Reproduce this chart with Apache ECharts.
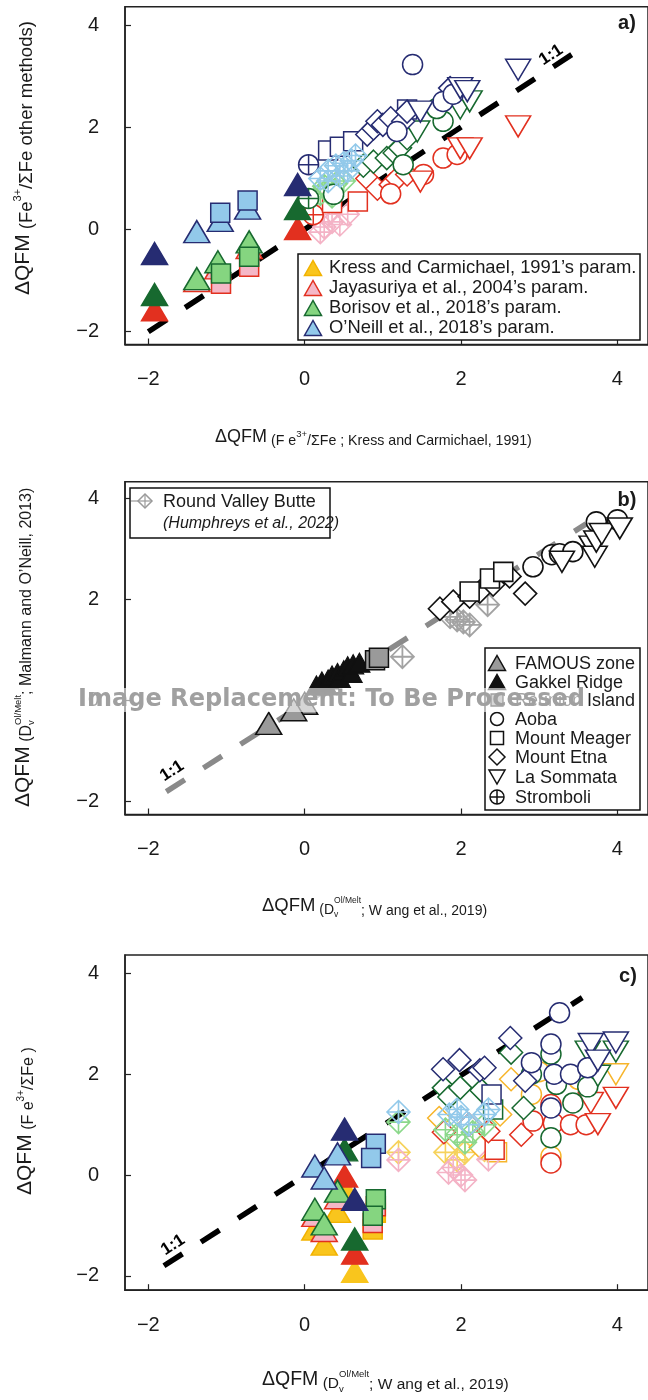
<!DOCTYPE html>
<html><head><meta charset="utf-8">
<script src="https://cdn.jsdelivr.net/npm/echarts@6/dist/echarts.min.js"></script>
<style>html,body{margin:0;padding:0;background:#fff}#c{width:648px;height:1400px}</style>
</head><body><div id="c"></div><script>
// ---------------- DATA ----------------
const tickValues = [-2, 0, 2, 4];
// Panel a: x = dQFM (KC91), y = dQFM other methods
const a_ja_gakkel = [[-1.92,-1.57],[-0.09,0.02]];
const a_ja_famous = [[-1.38,-1.0],[-1.11,-0.75],[-0.71,-0.35]];
const a_ja_reunion = [[-1.07,-1.06],[-0.71,-0.73]];
const a_ja_rvb = [[0.2,-0.05],[0.25,0.05],[0.35,0.15],[0.45,0.1],[0.55,0.3],[0.3,0.3]];
const a_ja_strom = [[0.11,0.29]];
const a_ja_meager = [[0.35,0.52],[0.68,0.55]];
const a_ja_etna = [[0.8,1.0],[0.93,0.8],[1.1,0.88],[1.18,1.0],[1.31,1.08]];
const a_ja_aoba = [[1.1,0.7],[1.52,1.08],[1.77,1.4],[1.95,1.47]];
const a_ja_som = [[1.48,0.94],[1.99,1.59],[2.11,1.59],[2.73,2.02]];
const a_bo_gakkel = [[-1.92,-1.27],[-0.09,0.41]];
const a_bo_famous = [[-1.38,-0.96],[-1.11,-0.63],[-0.71,-0.24]];
const a_bo_reunion = [[-1.07,-0.86],[-0.71,-0.53]];
const a_bo_rvb = [[0.2,0.7],[0.25,0.85],[0.3,0.8],[0.35,0.65],[0.4,0.9],[0.5,0.95]];
const a_bo_strom = [[0.05,0.61]];
const a_bo_etna = [[0.75,1.25],[0.88,1.33],[1.05,1.4],[1.15,1.5],[1.22,1.6],[1.31,1.79]];
const a_bo_aoba = [[0.37,0.69],[1.26,1.27],[1.77,2.12],[1.69,2.37]];
const a_bo_som = [[1.44,1.92],[1.99,2.37],[2.11,2.51]];
const a_on_gakkel = [[-1.92,-0.47],[-0.09,0.88]];
const a_on_famous = [[-1.38,-0.04],[-1.08,0.18],[-0.73,0.42]];
const a_on_reunion = [[-1.08,0.33],[-0.73,0.57]];
const a_on_rvb = [[0.2,1.0],[0.3,0.95],[0.3,1.15],[0.4,1.25],[0.45,1.05],[0.5,1.3],[0.55,1.15],[0.6,1.35],[0.65,1.45]];
const a_on_strom = [[0.05,1.27]];
const a_on_meager = [[0.3,1.55],[0.45,1.62],[0.62,1.73],[1.31,2.35]];
const a_on_etna = [[0.8,1.86],[0.88,1.98],[0.93,2.12],[1.0,2.05],[1.1,2.18],[1.26,2.12],[1.31,2.31],[1.86,2.77]];
const a_on_aoba = [[1.18,1.92],[1.38,3.23],[1.77,2.51],[1.9,2.65]];
const a_on_som = [[1.48,2.31],[1.99,2.77],[2.08,2.71],[2.73,3.13]];
const a_oneToOne = [[-2,-2],[3.48,3.49]];

// Panel b: x = dQFM (Dv, Wang 2019), y = dQFM (Dv, Mallmann & O'Neill 2013)
const b_famous = [[0.0,-0.05],[-0.14,-0.18],[-0.46,-0.45]];
const b_gakkel = [[0.15,0.3],[0.22,0.38],[0.28,0.3],[0.3,0.42],[0.35,0.5],[0.42,0.55],[0.45,0.45],[0.5,0.6],[0.55,0.68],[0.6,0.55],[0.62,0.72],[0.7,0.75]];
const b_reunion = [[0.9,0.8],[0.95,0.85]];
const b_rvb = [[1.25,0.87],[1.86,1.66],[1.95,1.6],[2.03,1.56],[2.11,1.5],[2.34,1.9]];
const b_etna = [[1.73,1.82],[1.9,1.96],[2.11,2.06],[2.24,2.16],[2.41,2.3],[2.62,2.46],[2.82,2.12]];
const b_meager = [[2.11,2.16],[2.37,2.42],[2.54,2.55]];
const b_aoba = [[2.92,2.65],[3.16,2.89],[3.26,2.91],[3.43,2.95],[3.73,3.54],[4.0,3.58]];
const b_som = [[3.29,2.75],[3.67,3.05],[3.71,2.85],[3.73,3.15],[3.8,3.3],[4.03,3.41]];
const b_oneToOne = [[-1.77,-1.8],[3.6,3.5]];

// Panel c: x = dQFM (Dv, Wang 2019), y = dQFM (Fe3+/sumFe, each method)
const c_kc_gakkel = [[0.51,-0.25],[0.64,-1.91]];
const c_kc_famous = [[0.42,-0.72],[0.13,-1.07],[0.25,-1.37]];
const c_kc_reunion = [[0.91,-0.75],[0.87,-1.08]];
const c_kc_rvb = [[1.2,0.45],[1.8,0.45],[1.95,0.3],[2.05,0.45],[2.3,0.5]];
const c_kc_meager = [[2.46,0.45]];
const c_kc_etna = [[1.72,1.13],[2.25,0.55],[2.5,1.2],[2.64,1.9]];
const c_kc_aoba = [[2.9,1.6],[3.0,2.05],[3.15,0.37],[3.5,1.9]];
const c_kc_som = [[3.98,2.0]];
const c_ja_gakkel = [[0.51,-0.02],[0.64,-1.55]];
const c_ja_famous = [[0.42,-0.45],[0.13,-0.8],[0.25,-1.1]];
const c_ja_reunion = [[0.91,-0.62],[0.87,-0.95]];
const c_ja_rvb = [[1.2,0.3],[1.84,0.05],[1.9,0.15],[2.0,0.0],[2.05,-0.1],[2.35,0.31]];
const c_ja_meager = [[2.43,0.5]];
const c_ja_etna = [[1.78,0.85],[2.1,1.0],[2.35,0.87],[2.77,0.8]];
const c_ja_aoba = [[2.92,1.07],[3.15,1.4],[3.18,1.03],[3.4,1.0],[3.6,1.0],[3.15,0.24]];
const c_ja_som = [[3.66,1.43],[3.75,1.01],[3.98,1.53]];
const c_bo_gakkel = [[0.51,0.5],[0.64,-1.27]];
const c_bo_famous = [[0.42,-0.32],[0.13,-0.68],[0.25,-0.97]];
const c_bo_reunion = [[0.91,-0.48],[0.87,-0.81]];
const c_bo_rvb = [[1.2,1.05],[1.8,0.9],[1.95,0.8],[2.05,0.65],[2.15,0.85],[2.3,1.0]];
const c_bo_meager = [[2.41,1.3]];
const c_bo_etna = [[1.78,1.73],[1.85,1.55],[1.99,1.73],[2.26,1.68],[2.64,2.43],[2.8,1.33]];
const c_bo_aoba = [[2.9,2.0],[3.15,2.4],[3.22,1.8],[3.43,1.43],[3.62,1.75],[3.15,0.74]];
const c_bo_som = [[3.62,2.45],[3.75,1.97],[3.98,2.45]];
const c_on_gakkel = [[0.51,0.91],[0.64,-0.48]];
const c_on_famous = [[0.42,0.42],[0.13,0.18],[0.25,-0.06]];
const c_on_reunion = [[0.91,0.62],[0.85,0.34]];
const c_on_rvb = [[1.2,1.25],[1.85,1.2],[1.95,1.3],[2.0,1.15],[2.1,1.0],[2.3,1.2],[2.35,1.3]];
const c_on_meager = [[2.39,1.6]];
const c_on_etna = [[1.77,2.1],[1.98,2.28],[2.24,2.08],[2.3,2.13],[2.63,2.72],[2.82,1.87]];
const c_on_aoba = [[2.9,2.23],[3.15,2.6],[3.19,2.0],[3.26,3.22],[3.4,2.0],[3.62,2.13],[3.15,1.33]];
const c_on_som = [[3.66,2.6],[3.75,2.27],[3.98,2.63]];
const c_oneToOne = [[-1.8,-1.8],[3.55,3.52]];

// ---------------- STYLE ----------------
const FONT = '"Liberation Sans", Arial, Helvetica, sans-serif';
const INK = '#1a1a1a';
const NAVY='#262c72', LBLUE='#92c9ea', DGREEN='#17692f', LGREEN='#85d580', RED='#e2301f', PINK='#f5b7c7', YEL='#f9c51d', YELB='#f2b200', ORANGE='#f7b52b';
const RV_BLUE='#92c9ea', RV_GREEN='#8bd88a', RV_PINK='#f4b3c6', RV_YEL='#f6d25c';
const BLK='#111111', GREY='#9a9a9a', RV_GREY='#a3a3a3';
const SYM = {
  tri:  {symbol:'triangle', size:[26,22], rot:0},
  tris: {symbol:'triangle', size:[21,19], rot:0},
  dtri: {symbol:'triangle', size:[25,21], rot:180},
  sq:   {symbol:'rect', size:[19,19], rot:0},
  ci:   {symbol:'circle', size:20, rot:0},
  di:   {symbol:'diamond', size:[23,23], rot:0},
  cp:   {symbol:'path://M10,0A10,10,0,0,1,10,20A10,10,0,0,1,10,0ZM0,10L20,10M10,0L10,20', size:20, rot:0},
  dc:   {symbol:'path://M10,0L20,10L10,20L0,10ZM10,0L10,20M0,10L20,10', size:23, rot:0}
};
const W='#ffffff', NONE='rgba(0,0,0,0)';
// [data, grid, shape, fill, stroke, width]
const specs = [
  // panel a : Jayasuriya (red), Borisov (green), O'Neill (navy)
  [a_ja_rvb,0,'dc',NONE,RV_PINK,1.6],[a_ja_gakkel,0,'tri',RED,RED,1.5],[a_ja_famous,0,'tri',PINK,RED,1.5],[a_ja_reunion,0,'sq',PINK,RED,1.5],
  [a_ja_strom,0,'cp',W,RED,1.5],[a_ja_meager,0,'sq',W,RED,1.5],[a_ja_etna,0,'di',W,RED,1.5],[a_ja_aoba,0,'ci',W,RED,1.5],[a_ja_som,0,'dtri',W,RED,1.5],
  [a_bo_rvb,0,'dc',NONE,RV_GREEN,1.6],[a_bo_gakkel,0,'tri',DGREEN,DGREEN,1.5],[a_bo_famous,0,'tri',LGREEN,DGREEN,1.5],[a_bo_reunion,0,'sq',LGREEN,DGREEN,1.5],
  [a_bo_strom,0,'cp',W,DGREEN,1.5],[a_bo_etna,0,'di',W,DGREEN,1.5],[a_bo_aoba,0,'ci',W,DGREEN,1.5],[a_bo_som,0,'dtri',W,DGREEN,1.5],
  [a_on_gakkel,0,'tri',NAVY,NAVY,1.5],[a_on_famous,0,'tri',LBLUE,NAVY,1.5],[a_on_reunion,0,'sq',LBLUE,NAVY,1.5],
  [a_on_strom,0,'cp',W,NAVY,1.5],[a_on_meager,0,'sq',W,NAVY,1.5],[a_on_etna,0,'di',W,NAVY,1.5],[a_on_aoba,0,'ci',W,NAVY,1.5],[a_on_som,0,'dtri',W,NAVY,1.5],
  [a_on_rvb,0,'dc',NONE,RV_BLUE,1.6],
  // panel b
  [b_famous,1,'tri',GREY,BLK,1.5],[b_gakkel,1,'tris',BLK,BLK,1.2],[b_reunion,1,'sq',GREY,BLK,1.5],[b_rvb,1,'dc',NONE,RV_GREY,1.8],
  [b_etna,1,'di',W,BLK,1.6],[b_meager,1,'sq',W,BLK,1.6],[b_aoba,1,'ci',W,BLK,1.6],[b_som,1,'dtri',W,BLK,1.6],
  // panel c : KC91 (yellow), Jayasuriya, Borisov, O'Neill
  [c_kc_gakkel,2,'tri',YEL,YEL,1.5],[c_kc_famous,2,'tri',YEL,YELB,1.5],[c_kc_reunion,2,'sq',YEL,YELB,1.5],[c_kc_rvb,2,'dc',NONE,RV_YEL,1.6],
  [c_kc_meager,2,'sq',W,ORANGE,1.5],[c_kc_etna,2,'di',W,ORANGE,1.5],[c_kc_aoba,2,'ci',W,ORANGE,1.5],[c_kc_som,2,'dtri',W,ORANGE,1.5],
  [c_ja_gakkel,2,'tri',RED,RED,1.5],[c_ja_famous,2,'tri',PINK,RED,1.5],[c_ja_reunion,2,'sq',PINK,RED,1.5],[c_ja_rvb,2,'dc',NONE,RV_PINK,1.6],
  [c_ja_meager,2,'sq',W,RED,1.5],[c_ja_etna,2,'di',W,RED,1.5],[c_ja_aoba,2,'ci',W,RED,1.5],[c_ja_som,2,'dtri',W,RED,1.5],
  [c_bo_gakkel,2,'tri',DGREEN,DGREEN,1.5],[c_bo_famous,2,'tri',LGREEN,DGREEN,1.5],[c_bo_reunion,2,'sq',LGREEN,DGREEN,1.5],[c_bo_rvb,2,'dc',NONE,RV_GREEN,1.6],
  [c_bo_meager,2,'sq',W,DGREEN,1.5],[c_bo_etna,2,'di',W,DGREEN,1.5],[c_bo_aoba,2,'ci',W,DGREEN,1.5],[c_bo_som,2,'dtri',W,DGREEN,1.5],
  [c_on_gakkel,2,'tri',NAVY,NAVY,1.5],[c_on_famous,2,'tri',LBLUE,NAVY,1.5],[c_on_reunion,2,'sq',LBLUE,NAVY,1.5],
  [c_on_meager,2,'sq',W,NAVY,1.5],[c_on_etna,2,'di',W,NAVY,1.5],[c_on_aoba,2,'ci',W,NAVY,1.5],[c_on_som,2,'dtri',W,NAVY,1.5],
  [c_on_rvb,2,'dc',NONE,RV_BLUE,1.6]
];

// ---------------- LAYOUT ----------------
const X_MIN = -2.298, X_MAX = 4.391;
const grids = [
  {left:125, top:6.7, width:530, height:337.8, ymin:-2.25, ymax:4.364},
  {left:125, top:481.8, width:530, height:332.7, ymin:-2.253, ymax:4.333},
  {left:125, top:955, width:530, height:335.2, ymin:-2.285, ymax:4.366}
];
const lineDefs = [[a_oneToOne,0,'#000000'],[b_oneToOne,1,'#8a8a8a'],[c_oneToOne,2,'#000000']];

const fmt = v => String(v).replace('-', '\u2212');
const option = {
  animation:false,
  grid: grids.map(g => ({left:g.left, top:g.top, width:g.width, height:g.height, show:true, borderColor:'#222', borderWidth:1.5, containLabel:false})),
  xAxis: grids.map((g,i) => ({type:'value', gridIndex:i, min:X_MIN, max:X_MAX, position:'bottom',
    axisLine:{show:true, onZero:false, lineStyle:{color:'#222', width:1.5}},
    axisTick:{show:true, inside:true, length:6, customValues:tickValues, lineStyle:{color:'#222', width:1.2}},
    axisLabel:{show:true, customValues:tickValues, formatter:fmt, margin:25, fontSize:20, fontFamily:FONT, color:INK},
    splitLine:{show:false}})),
  yAxis: grids.map((g,i) => ({type:'value', gridIndex:i, min:g.ymin, max:g.ymax, position:'left',
    axisLine:{show:true, onZero:false, lineStyle:{color:'#222', width:1.5}},
    axisTick:{show:true, inside:true, length:6, customValues:tickValues, lineStyle:{color:'#222', width:1.2}},
    axisLabel:{show:true, customValues:tickValues, formatter:fmt, margin:26, fontSize:20, fontFamily:FONT, color:INK},
    splitLine:{show:false}})),
  series: [],
  graphic: []
};
lineDefs.forEach(([d,g,col]) => option.series.push({type:'line', xAxisIndex:g, yAxisIndex:g, data:d, symbol:'none', z:1, silent:true,
  lineStyle:{color:col, width:5.5, type:[22,22], cap:'butt'}}));
specs.forEach(([d,g,shape,fill,stroke,lw]) => {
  const s = SYM[shape];
  option.series.push({type:'scatter', xAxisIndex:g, yAxisIndex:g, data:d, symbol:s.symbol, symbolSize:s.size, symbolRotate:s.rot,
    symbolKeepAspect:true, silent:true, z:3, emphasis:{disabled:true},
    itemStyle:{color:fill, borderColor:stroke, borderWidth:lw, opacity:1}});
});

// ---------------- TEXT HELPERS ----------------
const cv = document.createElement('canvas').getContext('2d');
function tw(t, s, pre){ cv.font = (pre ? pre + ' ' : '') + s + 'px ' + FONT; return cv.measureText(t).width; }
function mathTitle(pieces, x, y, rot){
  let cx = 0; const children = [];
  const mk = (p, px) => ({type:'text', silent:true, style:{text:p.t, x:px, y:p.dy||0, font:p.s+'px '+FONT, fill:INK, textAlign:'left', textVerticalAlign:'middle'}});
  for (let i = 0; i < pieces.length; i++){
    const p = pieces[i];
    children.push(mk(p, cx));
    if (p.stack){
      const q = pieces[++i];
      children.push(mk(q, cx));
      cx += Math.max(tw(p.t,p.s), tw(q.t,q.s));
    } else cx += tw(p.t, p.s);
  }
  return {type:'group', x:x, y:y, rotation:rot||0, silent:true, children:children};
}
const G = option.graphic;
// axis titles
G.push(mathTitle([{t:'\u0394QFM',s:18},{t:' (F e',s:14.2,dy:4},{t:'3+',s:9.5,dy:-3},{t:'/\u03a3Fe ; Kress and Carmichael, 1991)',s:14.2,dy:4}], 215, 437));
G.push(mathTitle([{t:'\u0394QFM',s:18.5},{t:' (D',s:14,dy:4},{t:'Ol/Melt',s:8.5,dy:-5,stack:true},{t:'v',s:8.5,dy:9},{t:'; W ang et al., 2019)',s:14,dy:5}], 262, 906));
G.push(mathTitle([{t:'\u0394QFM',s:19.5},{t:' (D',s:15.5,dy:4},{t:'Ol/Melt',s:9.5,dy:-6,stack:true},{t:'v',s:9.5,dy:9},{t:'; W ang et al., 2019)',s:15.5,dy:5}], 262, 1380));
G.push(mathTitle([{t:'\u0394QFM',s:21},{t:' (Fe',s:18.5,dy:4},{t:'3+',s:11,dy:-5},{t:'/\u03a3Fe other methods)',s:18.5,dy:4}], 23, 295, Math.PI/2));
G.push(mathTitle([{t:'\u0394QFM',s:21},{t:' (D',s:16,dy:4},{t:'Ol/Melt',s:9.5,dy:-5,stack:true},{t:'v',s:9.5,dy:8},{t:'; Malmann and O\u2019Neill, 2013)',s:16,dy:4}], 23, 807, Math.PI/2));
G.push(mathTitle([{t:'\u0394QFM',s:21},{t:' (F e',s:16,dy:4},{t:'3+',s:10,dy:-4},{t:'/\u03a3Fe )',s:16,dy:4}], 25, 1195, Math.PI/2));

// panel letters and 1:1 labels
[['a)',627,23],['b)',627,500],['c)',628,976]].forEach(([t,x,y]) => G.push({type:'text', x:x, y:y, silent:true,
  style:{text:t, x:0, y:0, font:'bold 20px '+FONT, fill:INK, textAlign:'center', textVerticalAlign:'middle'}}));
[[551,55],[172,771],[173,1245]].forEach(([x,y]) => G.push({type:'text', x:x, y:y, rotation:33*Math.PI/180, silent:true,
  style:{text:'1:1', x:0, y:0, font:'bold 17px '+FONT, fill:'#000', textAlign:'center', textVerticalAlign:'middle'}}));

// legend icons
function triIcon(cx, cy, w, h, fill, stroke, down){
  const pts = down ? [[cx-w/2,cy-h/2],[cx+w/2,cy-h/2],[cx,cy+h/2]] : [[cx-w/2,cy+h/2],[cx+w/2,cy+h/2],[cx,cy-h/2]];
  return {type:'polygon', silent:true, shape:{points:pts}, style:{fill:fill, stroke:stroke, lineWidth:1.5}};
}
function legText(t, x, y, s, pre){ return {type:'text', silent:true, style:{text:t, x:x, y:y, font:(pre?pre+' ':'')+s+'px '+FONT, fill:INK, textAlign:'left', textVerticalAlign:'middle'}}; }
// legend a
G.push({type:'rect', silent:true, shape:{x:298, y:254, width:342, height:86}, style:{fill:'#fff', stroke:'#111', lineWidth:1.5}, z:10});
const legA = [['Kress and Carmichael, 1991\u2019s param.',YEL,YELB],['Jayasuriya et al., 2004\u2019s param.',PINK,RED],['Borisov et al., 2018\u2019s param.',LGREEN,DGREEN],['O\u2019Neill et al., 2018\u2019s param.',LBLUE,NAVY]];
legA.forEach(([t,f,s],i) => { const y = 268 + i*20; G.push(Object.assign(triIcon(313,y,17,15,f,s),{z:11})); G.push(Object.assign(legText(t,329,y,18.4),{z:11})); });
// legend b (left)
G.push({type:'rect', silent:true, shape:{x:130, y:488, width:200, height:50}, style:{fill:'#fff', stroke:'#111', lineWidth:1.5}, z:10});
G.push({type:'polygon', silent:true, z:11, shape:{points:[[145,494],[152,501],[145,508],[138,501]]}, style:{fill:'#fff', stroke:'#9a9a9a', lineWidth:1.5}});
G.push({type:'line', silent:true, z:11, shape:{x1:145,y1:494,x2:145,y2:508}, style:{stroke:'#9a9a9a', lineWidth:1.2}});
G.push({type:'line', silent:true, z:11, shape:{x1:131,y1:501,x2:152,y2:501}, style:{stroke:'#9a9a9a', lineWidth:1.2}});
G.push(Object.assign(legText('Round Valley Butte',163,502,18),{z:11}));
G.push(Object.assign(legText('(Humphreys et al., 2022)',163,524,16,'italic'),{z:11}));
// legend b (right)
G.push({type:'rect', silent:true, shape:{x:485, y:648, width:155, height:162}, style:{fill:'#fff', stroke:'#111', lineWidth:1.5}, z:10});
const ly = [663,682,700,719,738,757,777,797], ix = 497;
const iconsB = [
  triIcon(ix,ly[0],17,15,GREY,BLK),
  triIcon(ix,ly[1],17,15,BLK,BLK),
  {type:'rect', shape:{x:ix-6,y:ly[2]-6,width:12,height:12}, style:{fill:GREY, stroke:BLK, lineWidth:1.3}},
  {type:'circle', shape:{cx:ix,cy:ly[3],r:6.5}, style:{fill:'#fff', stroke:BLK, lineWidth:1.5}},
  {type:'rect', shape:{x:ix-6.5,y:ly[4]-6.5,width:13,height:13}, style:{fill:'#fff', stroke:BLK, lineWidth:1.5}},
  {type:'polygon', shape:{points:[[ix,ly[5]-8],[ix+8,ly[5]],[ix,ly[5]+8],[ix-8,ly[5]]]}, style:{fill:'#fff', stroke:BLK, lineWidth:1.5}},
  triIcon(ix,ly[6],16,14,'#fff',BLK,true),
  {type:'circle', shape:{cx:ix,cy:ly[7],r:7}, style:{fill:'#fff', stroke:BLK, lineWidth:1.5}}
];
const namesB = ['FAMOUS zone','Gakkel Ridge','Reunion Island','Aoba','Mount Meager','Mount Etna','La Sommata','Stromboli'];
iconsB.forEach((ic,i) => { ic.z = 11; ic.silent = true; G.push(ic); G.push(Object.assign(legText(namesB[i],515,ly[i]+1,18),{z:11})); });
G.push({type:'line', silent:true, z:12, shape:{x1:ix-7,y1:ly[7],x2:ix+7,y2:ly[7]}, style:{stroke:BLK, lineWidth:1.5}});
G.push({type:'line', silent:true, z:12, shape:{x1:ix,y1:ly[7]-7,x2:ix,y2:ly[7]+7}, style:{stroke:BLK, lineWidth:1.5}});

// overlay band present on the reference picture
const wmText = 'Image Replacement: To Be Processed';
const wmFont = 'bold ' + (22 * 507 / (function(){cv.font='bold 22px "DejaVu Sans"'; return cv.measureText(wmText).width;})()).toFixed(2) + 'px "DejaVu Sans"';
G.push({type:'rect', silent:true, z:20, shape:{x:75, y:688, width:512, height:24}, style:{fill:'rgba(255,255,255,0.6)'}});
G.push({type:'text', silent:true, z:21, style:{text:wmText, x:78, y:700, font:wmFont, fill:'#a0a0a0', textAlign:'left', textVerticalAlign:'middle'}});

const chart = echarts.init(document.getElementById('c'), null, {renderer:'canvas'});
chart.setOption(option);
</script></body></html>
